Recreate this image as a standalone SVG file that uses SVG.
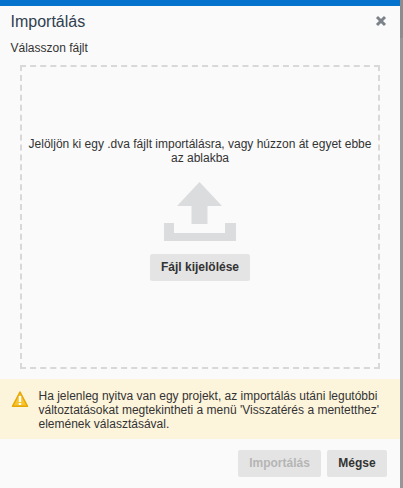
<svg xmlns="http://www.w3.org/2000/svg" width="403" height="488" viewBox="0 0 403 488">
<style>
text{font-family:"Liberation Sans",Arial,sans-serif;fill:#333}
.b{font-size:12px;font-weight:700;text-anchor:middle}
.m{font-size:12px;text-anchor:middle}
.w{font-size:12px}
.h{fill:none;stroke:#d8d8d8;stroke-width:2;stroke-dasharray:6 4.114}
.v{fill:none;stroke:#d8d8d8;stroke-width:2;stroke-dasharray:6 3.933}
.i{fill:#dbdcdd}
.btn{fill:#e4e4e4}
</style>
<rect width="403" height="488" fill="#ffffff"/>
<rect x="0" y="0" width="400" height="488" fill="#fafafa"/>
<rect x="400" y="0" width="3" height="38" fill="#8c8c8c"/>
<rect x="400" y="38" width="3" height="450" fill="#969696"/>
<rect x="0" y="0" width="400" height="6" fill="#0572ce"/>
<g id="title">
<text x="10.500" y="27" style="font-size:16px;fill:#2f3f50">Importálás</text>
<path d="M377 17L385 25M385 17L377 25" stroke="#7b8289" stroke-width="3" fill="none"/>
</g>
<text x="10.500" y="52" style="font-size:12px">Válasszon fájlt</text>
<g id="dropzone">
<path class="h" d="M20 66H380"/>
<path class="h" d="M20 368H380"/>
<path class="v" d="M21 65V369"/>
<path class="v" d="M379 65V369"/>
<text class="m" x="200" y="148">Jelöljön ki egy .dva fájlt importálásra, vagy húzzon át egyet ebbe</text>
<text class="m" x="200" y="162">az ablakba</text>
<path class="i" d="M199.500 182L222 206H207.500V224H191.500V206H177Z"/>
<path class="i" d="M164 223H174V233H225V223H236V241H164Z"/>
</g>
<g id="select-button">
<rect class="btn" x="150" y="254" width="100" height="27" rx="2"/>
<text class="b" x="200" y="271">Fájl kijelölése</text>
</g>
<g id="warning">
<rect x="0" y="379" width="400" height="60" fill="#fdf4dc"/>
<path d="M20 392L27.500 406.300H12.500Z" fill="#f7c531" stroke="#e6a700" stroke-width="1.500" stroke-linejoin="round"/>
<rect x="18.800" y="396" width="2.400" height="6" fill="#fff"/>
<rect x="18.800" y="403" width="2.400" height="2" fill="#fff"/>
<text class="w" x="38.500" y="400">Ha jelenleg nyitva van egy projekt, az importálás utáni legutóbbi</text>
<text class="w" x="38.500" y="414">változtatásokat megtekintheti a menü 'Visszatérés a mentetthez'</text>
<text class="w" x="38.500" y="428">elemének választásával.</text>
</g>
<g id="import-button">
<rect class="btn" x="238" y="450" width="83" height="27" rx="2"/>
<text class="b" x="279.500" y="467" style="fill:#b5b5b5">Importálás</text>
</g>
<g id="cancel-button">
<rect class="btn" x="327" y="450" width="60" height="27" rx="2"/>
<text class="b" x="357" y="467">Mégse</text>
</g>
</svg>
